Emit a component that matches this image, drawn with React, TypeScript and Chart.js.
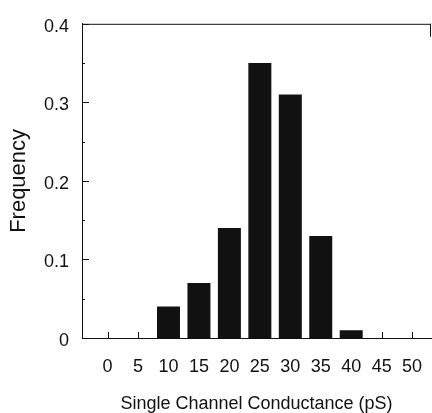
import React, { useEffect, useRef } from "react";
import { Chart, registerables } from "chart.js";

Chart.register(...registerables);

const conductance = [0, 5, 10, 15, 20, 25, 30, 35, 40, 45, 50];
const frequency = [0, 0, 0.04, 0.07, 0.14, 0.35, 0.31, 0.13, 0.01, 0, 0];
const yMajorTicks = [0, 0.1, 0.2, 0.3, 0.4];
const yMinorTicks = [0.05, 0.15, 0.25, 0.35];
const xTitle = "Single Channel Conductance (pS)";
const yTitle = "Frequency";

const INK = "#111111";
const FONT = "'Liberation Sans', Arial, Helvetica, sans-serif";

const framePlugin = {
  id: "frame",
  afterDraw(chart: any) {
    const { ctx, chartArea, scales } = chart;
    const { left, right, top, bottom } = chartArea;
    ctx.save();
    ctx.strokeStyle = INK;
    ctx.lineWidth = 1;
    ctx.beginPath();
    // top border and short right stub
    ctx.moveTo(left, top + 0.5);
    ctx.lineTo(right, top + 0.5);
    ctx.moveTo(right - 0.5, top);
    ctx.lineTo(right - 0.5, top + 13);
    // y ticks inward
    yMajorTicks.forEach((v) => {
      const y = Math.round(scales.y.getPixelForValue(v)) + 0.5;
      ctx.moveTo(left, y);
      ctx.lineTo(left + 7, y);
    });
    yMinorTicks.forEach((v) => {
      const y = Math.round(scales.y.getPixelForValue(v)) + 0.5;
      ctx.moveTo(left, y);
      ctx.lineTo(left + 3, y);
    });
    // x ticks inward
    conductance.forEach((v) => {
      const x = Math.round(scales.x.getPixelForValue(v)) + 0.5;
      ctx.moveTo(x, bottom);
      ctx.lineTo(x, bottom - 6);
    });
    ctx.stroke();
    ctx.restore();
  },
};

export default function App() {
  const ref = useRef<HTMLCanvasElement | null>(null);

  useEffect(() => {
    if (!ref.current) return;
    const chart = new Chart(ref.current, {
      type: "bar",
      data: {
        datasets: [
          {
            label: yTitle,
            data: conductance.map((c, i) => ({ x: c, y: frequency[i] })),
            backgroundColor: INK,
            borderWidth: 0,
            barPercentage: 0.755,
            categoryPercentage: 1,
          },
        ],
      },
      options: {
        animation: false,
        responsive: false,
        devicePixelRatio: 1,
        layout: { padding: { top: 17, right: 1, left: 0, bottom: 0 } },
        plugins: { legend: { display: false }, tooltip: { enabled: false } },
        scales: {
          x: {
            type: "linear",
            offset: false,
            min: -4.2,
            max: 53.1,
            afterBuildTicks: (axis: any) => {
              axis.ticks = conductance.map((v) => ({ value: v }));
            },
            afterFit: (scale: any) => {
              scale.height = 75;
              scale.paddingLeft = 0;
              scale.paddingRight = 0;
            },
            grid: { display: false, drawTicks: false, offset: false },
            border: { display: true, color: INK, width: 1 },
            ticks: {
              color: INK,
              font: { family: FONT, size: 18 },
              padding: 18,
              maxRotation: 0,
              autoSkip: false,
            },
            title: {
              display: true,
              text: xTitle,
              color: INK,
              font: { family: FONT, size: 18, lineHeight: 1 },
              padding: { top: 0, bottom: 0 },
            },
          },
          y: {
            type: "linear",
            min: 0,
            max: 0.4,
            afterBuildTicks: (axis: any) => {
              axis.ticks = yMajorTicks.map((v) => ({ value: v }));
            },
            afterFit: (scale: any) => {
              scale.width = 82;
            },
            grid: { display: false, drawTicks: false },
            border: { display: true, color: INK, width: 1 },
            ticks: {
              color: INK,
              font: { family: FONT, size: 18 },
              padding: 13,
              labelOffset: 3,
              callback: (v: any) => (Number(v) === 0 ? "0" : Number(v).toFixed(1)),
            },
            title: {
              display: true,
              text: yTitle,
              color: INK,
              font: { family: FONT, size: 22, lineHeight: 1 },
              padding: { top: 8, bottom: 0 },
            },
          },
        },
      },
      plugins: [framePlugin],
    });
    return () => chart.destroy();
  }, []);

  return (
    <div style={{ position: "absolute", left: 0, top: 0, width: 432, height: 413, background: "#fff" }}>
      <canvas ref={ref} width={432} height={413} />
    </div>
  );
}
